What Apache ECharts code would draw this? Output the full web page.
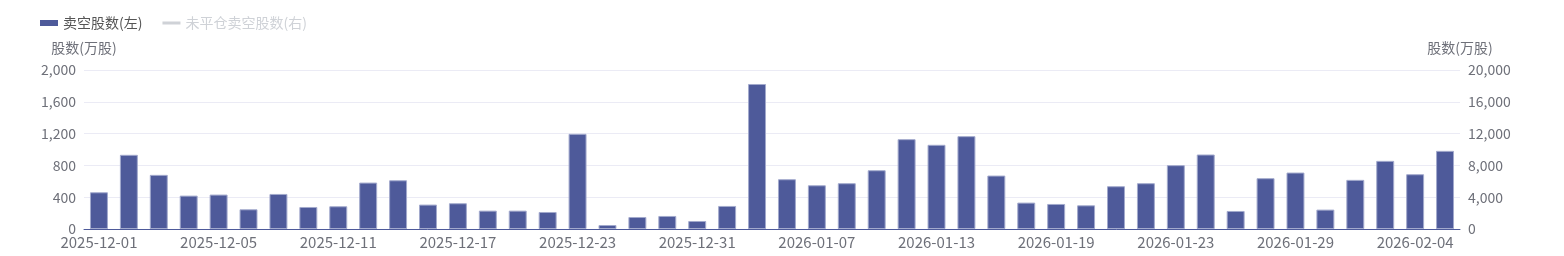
<!DOCTYPE html>
<html>
<head>
<meta charset="utf-8">
<script src="https://cdn.jsdelivr.net/npm/echarts@6/dist/echarts.min.js"></script>
<style>html,body{margin:0;padding:0;background:#fff}#c{width:1564px;height:256px}</style>
</head>
<body>
<div id="c"></div>
<script>
const dates = ['2025-12-01','2025-12-02','2025-12-03','2025-12-04','2025-12-05','2025-12-08','2025-12-09','2025-12-10','2025-12-11','2025-12-12','2025-12-15','2025-12-16','2025-12-17','2025-12-18','2025-12-19','2025-12-22','2025-12-23','2025-12-24','2025-12-29','2025-12-30','2025-12-31','2026-01-02','2026-01-05','2026-01-06','2026-01-07','2026-01-08','2026-01-09','2026-01-12','2026-01-13','2026-01-14','2026-01-15','2026-01-16','2026-01-19','2026-01-20','2026-01-21','2026-01-22','2026-01-23','2026-01-26','2026-01-27','2026-01-28','2026-01-29','2026-01-30','2026-02-02','2026-02-03','2026-02-04','2026-02-05'];
const shortShares = [462,933,681,420,433,248,441,277,286,584,613,307,324,231,231,214,1197,50,151,164,101,290,1824,626,550,576,739,1130,1059,1168,672,332,315,298,538,576,803,937,227,639,710,244,618,857,689,983];
const openShortShares = [];
const leftTicks = [0,2000,400];
const rightTicks = [0,20000,4000];

const chart = echarts.init(document.getElementById('c'));
const FF = '"Noto Sans CJK SC", sans-serif';
const lab = {color:'#6e7079', fontSize:14, fontFamily:FF};
chart.setOption({
  animation:false,
  textStyle:{fontFamily:FF},
  legend:{
    left:35, top:11, itemWidth:18, itemHeight:6, itemGap:20,
    textStyle:{fontSize:14, color:'#555'},
    data:[
      {name:'卖空股数(左)', icon:'rect', itemStyle:{borderWidth:0}},
      {name:'未平仓卖空股数(右)', icon:'path://M0,0L0.01,0L0.01,0.01Z M0,1.5H18V4.5H0Z M17.99,6L18,6L18,5.99Z'}
    ],
    selected:{'未平仓卖空股数(右)':false}
  },
  grid:{left:84, right:104, top:70, bottom:27},
  xAxis:{
    type:'category', data:dates,
    axisLine:{lineStyle:{color:'#4e5a9a'}},
    axisTick:{alignWithLabel:true, interval:3, lineStyle:{color:'#4e5a9a'}},
    axisLabel:Object.assign({}, lab, {interval:3, margin:6, fontSize:15})
  },
  yAxis:[
    {type:'value', name:'股数(万股)', min:leftTicks[0], max:leftTicks[1], interval:leftTicks[2],
     nameTextStyle:{color:'#6e7079', fontSize:14},
     axisLabel:lab, splitLine:{lineStyle:{color:'#ebebf5'}}},
    {type:'value', name:'股数(万股)', min:rightTicks[0], max:rightTicks[1], interval:rightTicks[2],
     nameTextStyle:{color:'#6e7079', fontSize:14},
     axisLabel:lab, splitLine:{show:false}}
  ],
  series:[
    {name:'卖空股数(左)', type:'bar', data:shortShares, barWidth:'60%',
     itemStyle:{color:'#4e5a9a', borderColor:'#a3aacd', borderWidth:1}},
    {name:'未平仓卖空股数(右)', type:'line', yAxisIndex:1, data:openShortShares,
     symbol:'none', showSymbol:false, lineStyle:{width:3}, itemStyle:{color:'#5470c6'}}
  ]
});
</script>
</body>
</html>
